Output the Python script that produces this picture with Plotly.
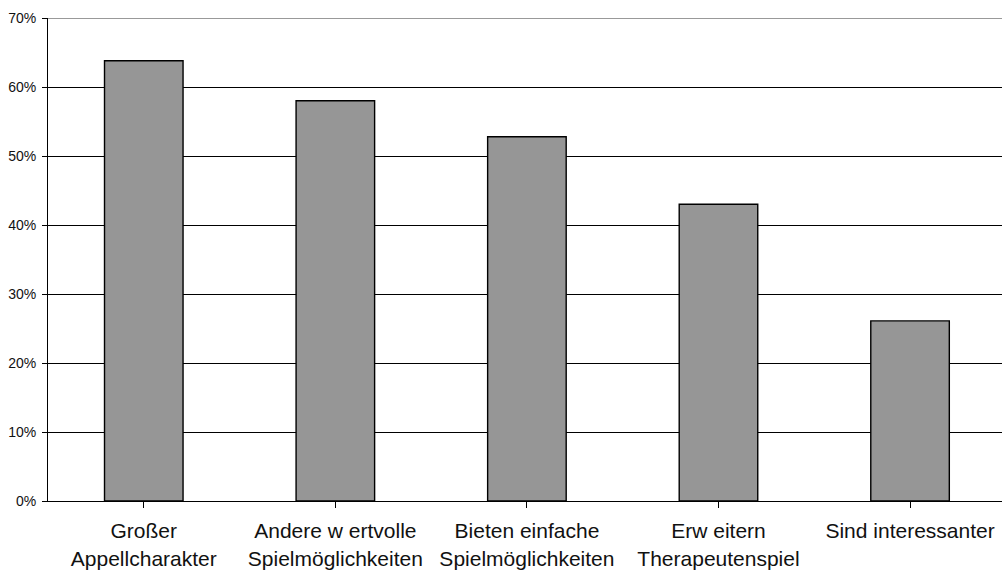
import plotly.graph_objects as go

# Survey answers and their shares (percent)
categories = ["Großer Appellcharakter", "Andere wertvolle Spielmöglichkeiten",
              "Bieten einfache Spielmöglichkeiten", "Erweitern Therapeutenspiel",
              "Sind interessanter"]
tick_labels = ["Großer<br>Appellcharakter", "Andere w ertvolle<br>Spielmöglichkeiten",
               "Bieten einfache<br>Spielmöglichkeiten", "Erw eitern<br>Therapeutenspiel",
               "Sind interessanter"]
shares = [63.8, 58.0, 52.8, 43.0, 26.1]
y_ticks = [0, 10, 20, 30, 40, 50, 60, 70]
y_tick_labels = [f"{v}%" for v in y_ticks]

FONT = "Liberation Sans, Arial, sans-serif"

fig = go.Figure(
    go.Bar(
        x=list(range(len(categories))),
        y=shares,
        marker=dict(color="#969696", line=dict(color="#000000", width=1.4)),
        width=0.41,
        hoverinfo="y",
    )
)

fig.update_layout(
    width=1002,
    height=573,
    margin=dict(l=48, r=0, t=18, b=72),
    paper_bgcolor="white",
    plot_bgcolor="white",
    showlegend=False,
    font=dict(family=FONT, color="#000000"),
)

fig.update_xaxes(
    range=[-0.5, 4.48],
    tickmode="array",
    tickvals=list(range(len(categories))),
    ticktext=tick_labels,
    tickson="boundaries",
    ticks="outside",
    ticklen=6,
    tickcolor="#000000",
    tickwidth=1,
    showline=True,
    linecolor="#000000",
    linewidth=1,
    showgrid=False,
    tickfont=dict(size=21, family=FONT, color="#111111"),
    ticklabelstandoff=5,
)

fig.update_yaxes(
    range=[0, 70],
    tickmode="array",
    tickvals=y_ticks,
    ticktext=y_tick_labels,
    ticks="outside",
    ticklen=5,
    tickcolor="#000000",
    tickwidth=1,
    showline=True,
    linecolor="#000000",
    linewidth=1,
    showgrid=True,
    gridcolor="#000000",
    gridwidth=1,
    zeroline=False,
    tickfont=dict(size=14, family=FONT, color="#111111"),
    ticklabelstandoff=3,
)

# Grey frame edge along the top of the plot area
fig.add_shape(
    type="line", xref="paper", yref="y",
    x0=0, x1=1, y0=70, y1=70,
    line=dict(color="#999999", width=2),
    layer="above",
)

fig.write_html("out.html")
